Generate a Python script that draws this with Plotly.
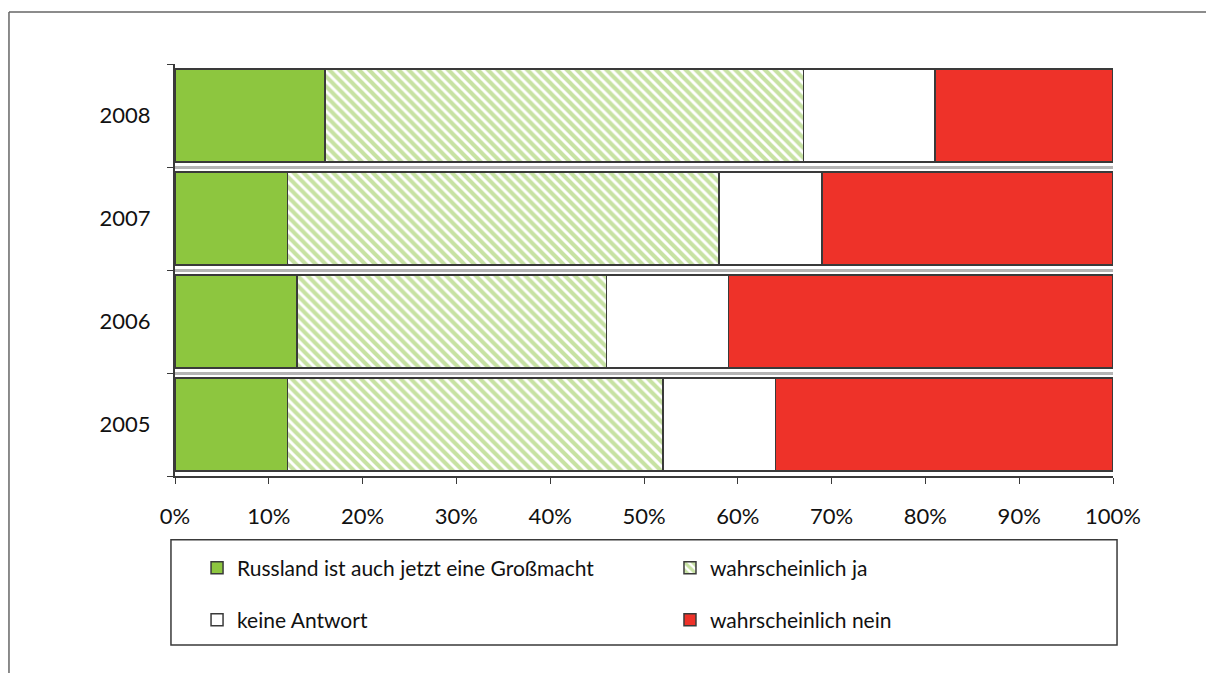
import plotly.graph_objects as go

years = ["2005", "2006", "2007", "2008"]
grossmacht = [12, 13, 12, 16]
wahrscheinlich_ja = [40, 33, 46, 51]
keine_antwort = [12, 13, 11, 14]
wahrscheinlich_nein = [36, 41, 31, 19]
x_ticks = [0, 10, 20, 30, 40, 50, 60, 70, 80, 90, 100]
x_tick_labels = [f"{v}%" for v in x_ticks]

FONT = "Lato"
OUTLINE = dict(color="#3a3a3a", width=1.5)

fig = go.Figure()
fig.add_trace(go.Bar(
    y=years, x=grossmacht, orientation="h",
    name="Russland ist auch jetzt eine Großmacht",
    marker=dict(color="#8dc63f", line=OUTLINE), legend="legend",
    showlegend=True,
))
fig.add_trace(go.Bar(
    y=years, x=wahrscheinlich_ja, orientation="h",
    name="wahrscheinlich ja",
    marker=dict(color="white", line=OUTLINE,
                pattern=dict(shape="\\", fgcolor="#90c548", bgcolor="white",
                             size=7, solidity=0.58)),
    legend="legend2", showlegend=True,
))
fig.add_trace(go.Bar(
    y=years, x=keine_antwort, orientation="h",
    name="keine Antwort",
    marker=dict(color="white", line=OUTLINE), legend="legend3",
    showlegend=True,
))
fig.add_trace(go.Bar(
    y=years, x=wahrscheinlich_nein, orientation="h",
    name="wahrscheinlich nein",
    marker=dict(color="#ee3229", line=OUTLINE), legend="legend4",
    showlegend=True,
))

def leg(x, y):
    return dict(
        x=x, y=y, orientation="h", xanchor="left", yanchor="middle",
        font=dict(family=FONT, size=21, color="#111"),
        bgcolor="rgba(0,0,0,0)", borderwidth=0, visible=True,
    )

fig.update_layout(
    showlegend=True,
    barmode="stack",
    bargap=0.1,
    width=1206, height=665,
    margin=dict(l=167, r=101, t=56, b=197),
    paper_bgcolor="white", plot_bgcolor="white",
    font=dict(family=FONT, size=22, color="#111"),
    legend=leg(0.0235, -0.2233),
    legend2=leg(0.5277, -0.2233),
    legend3=leg(0.0235, -0.3495),
    legend4=leg(0.5277, -0.3495),
    xaxis=dict(
        range=[0, 100], tickvals=x_ticks, ticktext=x_tick_labels,
        ticks="outside", ticklen=6, tickcolor="#3a3a3a",
        showline=True, linecolor="#3a3a3a", linewidth=2,
        showgrid=False, zeroline=False,
        ticklabelstandoff=14,
        tickfont=dict(family=FONT, size=22, color="#111"),
    ),
    yaxis=dict(
        type="category", categoryorder="array", categoryarray=years,
        tickson="boundaries", ticks="outside", ticklen=6, tickcolor="#3a3a3a",
        showline=True, linecolor="#3a3a3a", linewidth=2,
        showgrid=True, gridcolor="#b5b5b5", gridwidth=3,
        ticklabelstandoff=18,
        tickfont=dict(family=FONT, size=22, color="#111"),
    ),
    shapes=[
        # outer frame (top and left edges)
        dict(type="line", xref="paper", yref="paper",
             x0=-0.177, x1=1.108, y0=1.126, y1=1.126,
             line=dict(color="#666", width=1.5)),
        dict(type="line", xref="paper", yref="paper",
             x0=-0.177, x1=-0.177, y0=1.126, y1=-0.478,
             line=dict(color="#666", width=1.5)),
        # legend box
        dict(type="rect", xref="paper", yref="paper",
             x0=-0.0043, x1=1.0043, y0=-0.155, y1=-0.410,
             line=dict(color="#3a3a3a", width=1.5)),
    ],
)

fig.write_html("out.html")
